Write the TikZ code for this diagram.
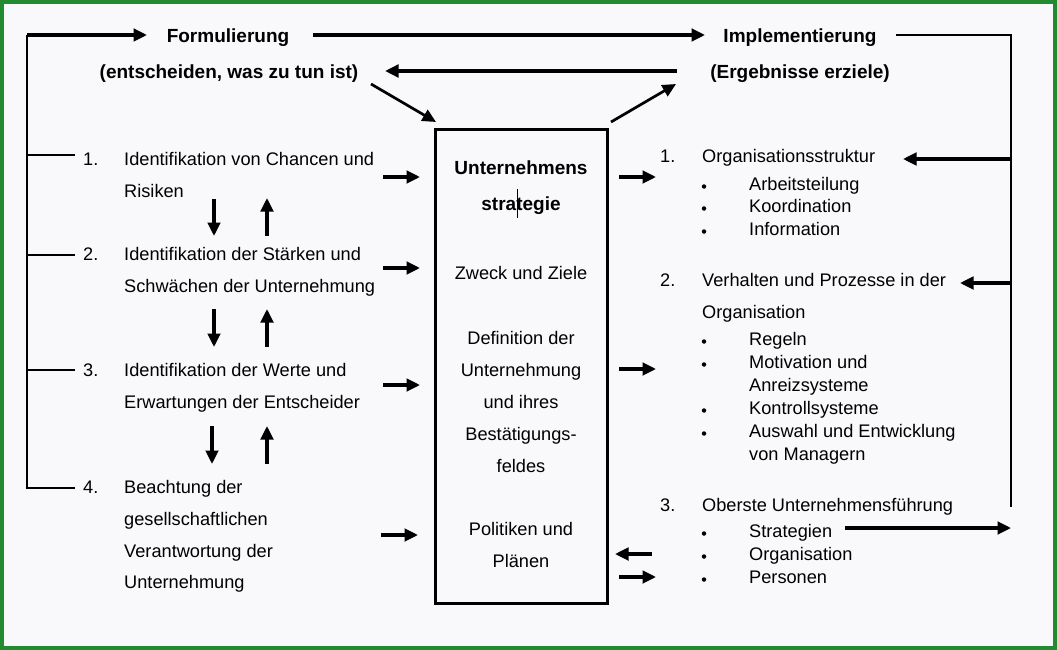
\documentclass[tikz,border=0pt]{standalone}
\usepackage{fontspec}
\setmainfont{Liberation Sans}
\usetikzlibrary{arrows.meta}
\definecolor{framegreen}{RGB}{34,139,48}
\definecolor{bgpaper}{RGB}{249,249,251}
\begin{document}
\begin{tikzpicture}[x=1pt,y=-1pt,
  body/.style={font=\fontsize{18.2}{20}\selectfont, inner sep=0pt, anchor=base west},
  ctr/.style={font=\fontsize{18.2}{20}\selectfont, inner sep=0pt, anchor=base},
  title/.style={font=\fontsize{19}{22}\selectfont\bfseries, inner sep=0pt, anchor=base},
  arr/.style={line width=3.2pt, -{Triangle[length=13.5pt,width=12.5pt]}},
  bracket/.style={line width=2.8pt},
  tick/.style={line width=2.2pt},
  bul/.style={circle, fill=black, inner sep=0pt, minimum size=4.5pt}]
\fill[bgpaper] (0,0) rectangle (1057,650);
\draw[framegreen, line width=4pt] (2,2) rectangle (1055,648);
\useasboundingbox (0,0) rectangle (1057,650);

% titles
\node[title] (form) at (228,43) {Formulierung};
\node[title] (formsub) at (229,79) {(entscheiden, was zu tun ist)};
\node[title] (impl) at (800,43) {Implementierung};
\node[title] (implsub) at (800,79) {(Ergebnisse erziele)};

% central box
\node[draw, line width=3pt, minimum width=172pt, minimum height=473pt, inner sep=0pt] (box) at (521,366.5) {};
\node[title] (u1) at (521,175) {Unternehmens};
\node[title] (u2) at (521,210) {strategie};
\coordinate (cura) at (517.5,189);
\coordinate (curb) at (517.5,218);
\draw[line width=0.8pt] (cura) -- (curb);
\node[ctr] (zweck) at (521,279) {Zweck und Ziele};
\node[ctr] (def1) at (521,344) {Definition der};
\node[ctr] (def2) at (521,376) {Unternehmung};
\node[ctr] (def3) at (521,408) {und ihres};
\node[ctr] (def4) at (521,440) {Bestätigungs-};
\node[ctr] (def5) at (521,472) {feldes};
\node[ctr] (pol1) at (521,535) {Politiken und};
\node[ctr] (pol2) at (521,567) {Plänen};

% left list
\node[body] (n1) at (83,165) {1.};
\node[body] (l1a) at (124,165) {Identifikation von Chancen und};
\node[body] (l1b) at (124,197) {Risiken};
\node[body] (n2) at (83,260) {2.};
\node[body] (l2a) at (124,260) {Identifikation der Stärken und};
\node[body] (l2b) at (124,292) {Schwächen der Unternehmung};
\node[body] (n3) at (83,376) {3.};
\node[body] (l3a) at (124,376) {Identifikation der Werte und};
\node[body] (l3b) at (124,408) {Erwartungen der Entscheider};
\node[body] (n4) at (83,493) {4.};
\node[body] (l4a) at (124,493) {Beachtung der};
\node[body] (l4b) at (124,525) {gesellschaftlichen};
\node[body] (l4c) at (124,557) {Verantwortung der};
\node[body] (l4d) at (124,588) {Unternehmung};

% left bracket
\coordinate (lt) at (27,35);
\coordinate (lb) at (27,488);
\coordinate (fl) at (147,35);
\draw[bracket] (lb) -- (lt);
\draw[arr] (lt) -- (fl);
\coordinate (t1) at (75,155);
\coordinate (t2) at (75,255);
\coordinate (t3) at (75,370);
\coordinate (t4) at (75,488);
\draw[tick] (lt |- t1) -- (t1);
\draw[tick] (lt |- t2) -- (t2);
\draw[tick] (lt |- t3) -- (t3);
\draw[tick] (25.6,488) -- (t4);

% top connectors
\coordinate (fr) at (313,35);
\coordinate (il) at (705,35);
\draw[arr] (fr) -- (il);
\coordinate (ir) at (896,35);
\coordinate (rt) at (1011,35);
\coordinate (rb) at (1011,507);
\draw[bracket] (ir) -- (rt) -- (rb);
\coordinate (ba) at (677,71);
\coordinate (bb) at (385,71);
\draw[arr, line width=3.8pt] (ba) -- (bb);
\coordinate (da) at (371,84);
\coordinate (db) at (436,122);
\draw[arr, line width=2.7pt] (da) -- (db);
\coordinate (ua) at (611,122);
\coordinate (ub) at (676,84);
\draw[arr, line width=2.7pt] (ua) -- (ub);

% arrows into box
\coordinate (i1a) at (383,177); \coordinate (i1b) at (420,177);
\coordinate (i2a) at (383,268); \coordinate (i2b) at (420,268);
\coordinate (i3a) at (383,385); \coordinate (i3b) at (420,385);
\coordinate (i4a) at (381,535); \coordinate (i4b) at (418,535);
\draw[arr] (i1a) -- (i1b);
\draw[arr] (i2a) -- (i2b);
\draw[arr] (i3a) -- (i3b);
\draw[arr] (i4a) -- (i4b);

% vertical arrows
\coordinate (v1a) at (214,199); \coordinate (v1b) at (214,236);
\coordinate (w1a) at (267,236); \coordinate (w1b) at (267,198);
\coordinate (v2a) at (214,309); \coordinate (v2b) at (214,347);
\coordinate (w2a) at (267,347); \coordinate (w2b) at (267,309);
\coordinate (v3a) at (212,426); \coordinate (v3b) at (212,464);
\coordinate (w3a) at (267,464); \coordinate (w3b) at (267,426);
\draw[arr] (v1a) -- (v1b); \draw[arr] (w1a) -- (w1b);
\draw[arr] (v2a) -- (v2b); \draw[arr] (w2a) -- (w2b);
\draw[arr] (v3a) -- (v3b); \draw[arr] (w3a) -- (w3b);

% arrows out of box
\coordinate (o1a) at (619,177); \coordinate (o1b) at (656,177);
\coordinate (o2a) at (619,369); \coordinate (o2b) at (656,369);
\coordinate (o3a) at (652,554); \coordinate (o3b) at (615,554);
\coordinate (o4a) at (619,577); \coordinate (o4b) at (656,577);
\draw[arr] (o1a) -- (o1b);
\draw[arr] (o2a) -- (o2b);
\draw[arr] (o3a) -- (o3b);
\draw[arr] (o4a) -- (o4b);

% right list
\node[body] (r1) at (660,162) {1.};
\node[body] (r1t) at (702,162) {Organisationsstruktur};
\node[bul] (b11) at (704,186.5) {}; \node[body] (r11) at (749,190) {Arbeitsteilung};
\node[bul] (b12) at (704,208.5) {}; \node[body] (r12) at (749,212) {Koordination};
\node[bul] (b13) at (704,231.5) {}; \node[body] (r13) at (749,235) {Information};
\node[body] (r2) at (660,286) {2.};
\node[body] (r2t) at (702,286) {Verhalten und Prozesse in der};
\node[body] (r2u) at (702,318) {Organisation};
\node[bul] (b21) at (704,341.5) {}; \node[body] (r21) at (749,345) {Regeln};
\node[bul] (b22) at (704,364.5) {}; \node[body] (r22) at (749,368) {Motivation und};
\node[body] (r22b) at (749,391) {Anreizsysteme};
\node[bul] (b23) at (704,410.5) {}; \node[body] (r23) at (749,414) {Kontrollsysteme};
\node[bul] (b24) at (704,433.5) {}; \node[body] (r24) at (749,437) {Auswahl und Entwicklung};
\node[body] (r24b) at (749,460) {von Managern};
\node[body] (r3) at (660,511) {3.};
\node[body] (r3t) at (702,511) {Oberste Unternehmensführung};
\node[bul] (b31) at (704,533.5) {}; \node[body] (r31) at (749,537) {Strategien};
\node[bul] (b32) at (704,556.5) {}; \node[body] (r32) at (749,560) {Organisation};
\node[bul] (b33) at (704,579.5) {}; \node[body] (r33) at (749,583) {Personen};

% right bracket arrows
\coordinate (a1) at (903,159);
\coordinate (a2) at (960,283);
\coordinate (s1) at (845,528);
\draw[arr] (rt |- a1) -- (a1);
\draw[arr] (rt |- a2) -- (a2);
\draw[arr] (s1) -- (rt |- s1);
\end{tikzpicture}
\end{document}
